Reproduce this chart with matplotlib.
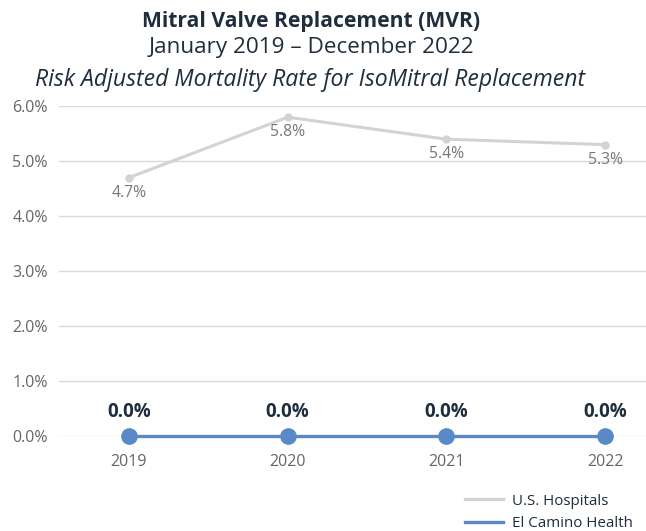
import numpy as np
import matplotlib.pyplot as plt
from matplotlib.lines import Line2D

years = ['2019', '2020', '2021', '2022']
us_hospitals = [4.7, 5.8, 5.4, 5.3]
el_camino = [0.0, 0.0, 0.0, 0.0]
y_ticks = [0, 1, 2, 3, 4, 5, 6]

plt.rcParams['font.family'] = ['Open Sans', 'DejaVu Sans']

gray = '#d3d3d3'
blue = '#5a89c8'
dark = '#1f2d3d'

fig = plt.figure(figsize=(6.46, 5.31), dpi=100)
ax = fig.add_axes([0.0913, 0.179, 0.9087, 0.621])

x = np.arange(len(years))
ax.plot(x, us_hospitals, color=gray, linewidth=2.2, marker='o', markersize=5, clip_on=False, zorder=3)
ax.plot(x, el_camino, color=blue, linewidth=2.4, marker='o', markersize=11, clip_on=False, zorder=4)

# data labels
for xi, v in zip(x, us_hospitals):
    ax.annotate('{:.1f}%'.format(v), (xi, v), xytext=(0, -13.7), textcoords='offset points',
                ha='center', va='baseline', fontsize=11.3, color='#777777')
for xi, v in zip(x, el_camino):
    ax.annotate('{:.1f}%'.format(v), (xi, v), xytext=(0, 13.7), textcoords='offset points',
                ha='center', va='baseline', fontsize=13.5, fontweight='bold', color=dark)

ax.set_xlim(-0.441, 3.258)
ax.set_ylim(0, 6)
ax.set_yticks(y_ticks)
ax.set_yticklabels(['{:.1f}%'.format(t) for t in y_ticks])
ax.set_xticks(x)
ax.set_xticklabels(years)
ax.tick_params(axis='both', length=0, labelsize=11.5, labelcolor='#666666')
ax.tick_params(axis='x', pad=13)
ax.tick_params(axis='y', pad=8)
ax.grid(axis='y', color='#d9d9d9', linewidth=1)
ax.set_axisbelow(True)
for s in ax.spines.values():
    s.set_visible(False)

fig.text(0.482, 0.949, 'Mitral Valve Replacement (MVR)', ha='center', va='baseline',
         fontsize=15.2, fontweight='bold', color=dark)
fig.text(0.482, 0.900, 'January 2019 \u2013 December 2022', ha='center', va='baseline',
         fontsize=16.2, color=dark)
fig.text(0.480, 0.838, 'Risk Adjusted Mortality Rate for IsoMitral Replacement', ha='center',
         va='baseline', fontsize=16.6, style='italic', color=dark)

handles = [Line2D([], [], color=gray, linewidth=2.4), Line2D([], [], color=blue, linewidth=2.4)]
fig.legend(handles, ['U.S. Hospitals', 'El Camino Health'], loc='lower right',
           bbox_to_anchor=(1.0, -0.026), frameon=False, fontsize=10.9, handlelength=2.5,
           handletextpad=0.55, labelspacing=0.5, labelcolor=dark)

fig.savefig('out.png', dpi=100)
